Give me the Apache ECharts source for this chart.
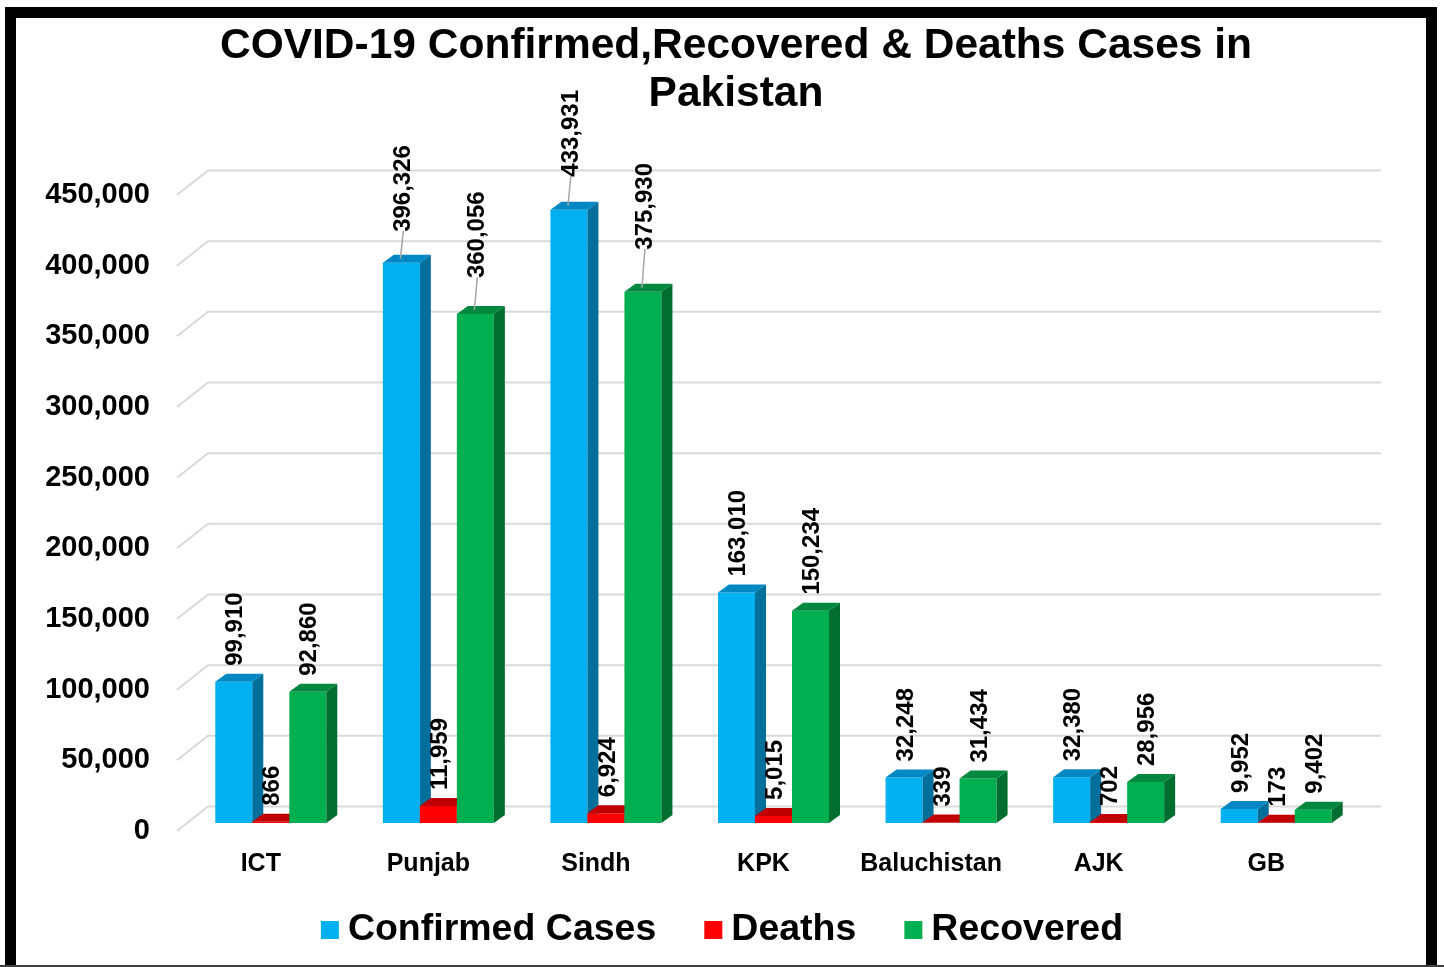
<!DOCTYPE html>
<html>
<head>
<meta charset="utf-8">
<title>COVID-19 Pakistan</title>
<script src="https://cdn.jsdelivr.net/npm/echarts@6/dist/echarts.min.js"></script>
<style>
  html, body { margin: 0; padding: 0; background: #fff; }
  #chart { width: 1444px; height: 967px; }
</style>
</head>
<body>
<div id="chart"></div>
<script>
// data
const categories = ['ICT', 'Punjab', 'Sindh', 'KPK', 'Baluchistan', 'AJK', 'GB']
const confirmed = [99910, 396326, 433931, 163010, 32248, 32380, 9952]
const deaths = [866, 11959, 6924, 5015, 339, 702, 173]
const recovered = [92860, 360056, 375930, 150234, 31434, 28956, 9402]
const yTicks = [0, 50000, 100000, 150000, 200000, 250000, 300000, 350000, 400000, 450000]

const FONT = "'Liberation Sans', Arial, sans-serif"
const BACK = { x: 31, y: -24.5 }   // back wall offset of the floor / gridlines
const SHIFT = { x: 10, y: -8 }     // bars sit part way into the depth
const SIDE = { x: 11, y: -8 }      // bar depth
const BAR_W = 37

// labels that were dragged up with a leader line in the original
const labelLift = {
  confirmed: { 1: 15, 2: 17 },
  recovered: { 1: 20, 2: 26 }
}

const fmt = v => v.toLocaleString('en-US')

function barSeries(name, values, slot, colors, liftKey) {
  return {
    name: name,
    type: 'custom',
    clip: false,
    z: 3,
    itemStyle: { color: colors.front },
    data: values.map((v, i) => [i, v]),
    renderItem(params, api) {
      const idx = api.value(0)
      const val = api.value(1)
      const base = api.coord([idx, 0])
      const top = api.coord([idx, val])
      const x0 = base[0] + SHIFT.x - BAR_W * 1.5 + slot * BAR_W
      const x1 = x0 + BAR_W
      const yb = base[1] + SHIFT.y
      const yt = top[1] + SHIFT.y
      const lift = (labelLift[liftKey] || {})[idx] || 0
      const lx = (x0 + x1) / 2 + 2
      const ly = yt + SIDE.y - 8 - lift
      const children = [
        {
          type: 'polygon',
          shape: { points: [[x0, yb], [x1, yb], [x1, yt], [x0, yt]] },
          style: { fill: colors.front }
        },
        {
          type: 'polygon',
          shape: { points: [[x1, yb], [x1 + SIDE.x, yb + SIDE.y], [x1 + SIDE.x, yt + SIDE.y], [x1, yt]] },
          style: { fill: colors.side }
        },
        {
          type: 'polygon',
          shape: { points: [[x0, yt], [x1, yt], [x1 + SIDE.x, yt + SIDE.y], [x0 + SIDE.x, yt + SIDE.y]] },
          style: { fill: colors.top }
        },
        {
          type: 'text',
          x: lx,
          y: ly,
          rotation: Math.PI / 2,
          z2: 10,
          style: {
            text: fmt(val),
            font: 'bold 24px ' + FONT,
            fill: '#000',
            align: 'left',
            verticalAlign: 'middle'
          }
        }
      ]
      if (lift) {
        children.push({
          type: 'line',
          shape: { x1: lx, y1: ly - 1, x2: lx - 3, y2: yt + SIDE.y / 2 },
          style: { stroke: '#a6a6a6', lineWidth: 1.5 }
        })
      }
      return { type: 'group', children: children }
    }
  }
}

const chart = echarts.init(document.getElementById('chart'))
chart.setOption({
  backgroundColor: '#fff',
  animation: false,
  title: {
    text: 'COVID-19 Confirmed,Recovered & Deaths Cases in\nPakistan',
    left: 731,
    top: 17,
    textAlign: 'center',
    textStyle: {
      fontFamily: FONT,
      fontSize: 42.5,
      fontWeight: 'bold',
      lineHeight: 48,
      color: '#000'
    }
  },
  legend: {
    data: ['Confirmed Cases', 'Deaths', 'Recovered'],
    left: 'center',
    top: 906,
    icon: 'rect',
    itemWidth: 18,
    itemHeight: 18,
    itemGap: 48,
    textStyle: {
      fontFamily: FONT,
      fontSize: 37.5,
      fontWeight: 'bold',
      color: '#000',
      padding: [0, 0, 0, 4]
    }
  },
  grid: {
    left: 177,
    right: 94,
    top: 195,
    bottom: 136
  },
  xAxis: {
    type: 'category',
    data: categories,
    axisLine: { show: false },
    axisTick: { show: false },
    splitLine: { show: false },
    axisLabel: {
      interval: 0,
      margin: 21,
      fontFamily: FONT,
      fontSize: 25,
      fontWeight: 'bold',
      color: '#000'
    }
  },
  yAxis: {
    type: 'value',
    min: 0,
    max: 450000,
    interval: 50000,
    axisLine: { show: false },
    axisTick: { show: false },
    splitLine: { show: false },
    axisLabel: {
      margin: 27,
      padding: [5, 0, 0, 0],
      fontFamily: FONT,
      fontSize: 29,
      fontWeight: 'bold',
      color: '#000',
      formatter: v => fmt(v)
    }
  },
  series: [
    {
      name: 'grid-wall',
      type: 'custom',
      clip: false,
      silent: true,
      z: 1,
      data: yTicks.map(v => [0, v]),
      renderItem(params, api) {
        const cs = params.coordSys
        const y = api.coord([0, api.value(1)])[1]
        return {
          type: 'polyline',
          shape: {
            points: [
              [cs.x, y],
              [cs.x + BACK.x, y + BACK.y],
              [cs.x + cs.width + BACK.x, y + BACK.y]
            ]
          },
          style: { stroke: '#d9d9d9', lineWidth: 2, fill: null }
        }
      }
    },
    barSeries('Confirmed Cases', confirmed, 0,
      { front: '#00B0F0', side: '#006f9c', top: '#0088c4' }, 'confirmed'),
    barSeries('Deaths', deaths, 1,
      { front: '#FF0000', side: '#a30000', top: '#c00000' }, 'deaths'),
    barSeries('Recovered', recovered, 2,
      { front: '#00B050', side: '#006e2f', top: '#00893e' }, 'recovered')
  ],
  graphic: [
    {
      type: 'rect',
      shape: { x: 10.5, y: 12.5, width: 1421, height: 970 },
      style: { fill: null, stroke: '#000', lineWidth: 11 },
      z: 100
    },
    {
      type: 'line',
      shape: { x1: 0, y1: 966, x2: 1444, y2: 966 },
      style: { stroke: '#404040', lineWidth: 2 },
      z: 100
    }
  ]
})
</script>
</body>
</html>
